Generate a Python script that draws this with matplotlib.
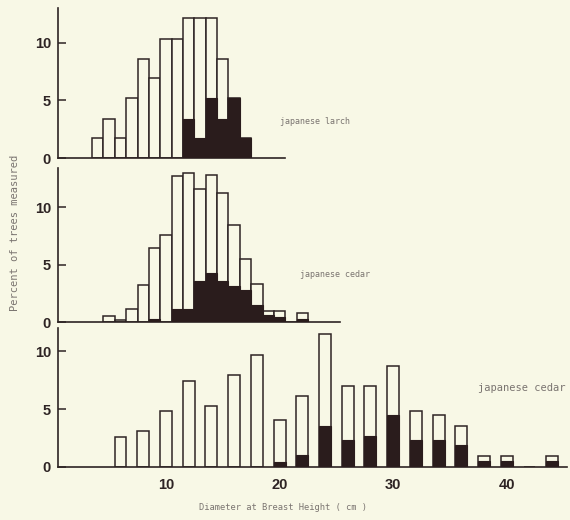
import matplotlib
matplotlib.use("Agg")
import matplotlib.pyplot as plt

# Diameter classes (cm) and percent of trees per class
larch_dbh = list(range(4, 18))
larch_total = [1.7, 3.4, 1.7, 5.2, 8.6, 6.9, 10.3, 10.3, 12.1, 12.1, 12.1, 8.6, 5.2, 1.7]
larch_dark = [0, 0, 0, 0, 0, 0, 0, 0, 3.4, 1.7, 5.2, 3.4, 5.2, 1.7]

cedar_a_dbh = list(range(5, 23))
cedar_a_total = [0.5, 0.2, 1.1, 3.2, 6.4, 7.6, 12.7, 13.0, 11.6, 12.8, 11.2, 8.4,
                 5.5, 3.3, 1.0, 1.0, 0, 0.8]
cedar_a_dark = [0, 0, 0, 0, 0.25, 0, 1.1, 1.1, 3.6, 4.3, 3.6, 3.1,
                2.8, 1.45, 0.6, 0.4, 0, 0.3]

cedar_b_dbh = list(range(6, 45, 2))
cedar_b_total = [2.6, 3.15, 4.8, 7.45, 5.25, 7.9, 9.65, 4.05, 6.15, 11.5, 7.0, 7.0,
                 8.75, 4.85, 4.45, 3.55, 0.95, 0.95, 0, 0.95]
cedar_b_dark = [0, 0, 0, 0, 0, 0, 0, 0.45, 1.0, 3.55, 2.3, 2.7,
                4.45, 2.3, 2.3, 1.9, 0.5, 0.5, 0, 0.5]

x_ticks = [10, 20, 30, 40]
y_ticks = [0, 5, 10]

BG = "#f8f8e6"
INK = "#2e2424"
DARK = "#2a1c1c"
GREY = "#7a7470"

fig = plt.figure(figsize=(5.7, 5.2), dpi=100, facecolor=BG)

W = 570.0
H = 520.0
left_px, right_px = 58, 567
xlim = (0.5, 45.3)


def make_axes(top_px, bottom_px):
    return fig.add_axes([left_px / W, 1 - bottom_px / H,
                         (right_px - left_px) / W, (bottom_px - top_px) / H])


panels = [
    dict(box=(8, 158), ymax=13.0, x=larch_dbh, tot=larch_total, dark=larch_dark,
         width=1.0, xend=20.5, label="japanese larch", lx=20.0, ly=3.2,
         ha="left", size=6),
    dict(box=(168, 322), ymax=13.4, x=cedar_a_dbh, tot=cedar_a_total, dark=cedar_a_dark,
         width=1.0, xend=25.3, label="japanese cedar", lx=21.8, ly=4.1,
         ha="left", size=6),
    dict(box=(328, 467), ymax=12.0, x=cedar_b_dbh, tot=cedar_b_total, dark=cedar_b_dark,
         width=1.05, xend=45.3, label="japanese cedar", lx=45.2, ly=6.8,
         ha="right", size=7.5),
]

axes = []
for i, p in enumerate(panels):
    ax = make_axes(*p["box"])
    ax.set_facecolor("none")
    ax.set_xlim(*xlim)
    ax.set_ylim(0, p["ymax"])
    ax.bar(p["x"], p["tot"], width=p["width"], color=BG, edgecolor=INK,
           linewidth=1.1, zorder=2)
    ax.bar(p["x"], p["dark"], width=p["width"], color=DARK, edgecolor=DARK,
           linewidth=0.8, zorder=3)
    for s in ("top", "right"):
        ax.spines[s].set_visible(False)
    ax.spines["left"].set_color(INK)
    ax.spines["bottom"].set_color(INK)
    ax.spines["left"].set_linewidth(1.2)
    ax.spines["bottom"].set_linewidth(1.2)
    ax.spines["bottom"].set_bounds(xlim[0], p["xend"])
    ax.set_yticks(y_ticks)
    ax.set_yticklabels([str(t) for t in y_ticks])
    ax.tick_params(axis="y", direction="in", length=6, width=1.1, color=INK,
                   pad=5, labelsize=10.5, labelcolor=INK)
    for lab in ax.get_yticklabels():
        lab.set_fontweight("bold")
        lab.set_fontfamily("Liberation Sans")
    if i < 2:
        ax.set_xticks([])
    else:
        ax.set_xticks(x_ticks)
        ax.set_xticklabels([str(t) for t in x_ticks])
        ax.tick_params(axis="x", length=0, pad=8, labelsize=10.5, labelcolor=INK)
        for lab in ax.get_xticklabels():
            lab.set_fontweight("bold")
            lab.set_fontfamily("Liberation Sans")
    ax.text(p["lx"], p["ly"], p["label"], fontsize=p["size"],
            family="DejaVu Sans Mono", color=GREY, ha=p["ha"], va="center")
    axes.append(ax)

fig.text(15 / W, 1 - 233 / H, "Percent of trees measured",
         rotation=90, fontsize=7.5, family="DejaVu Sans Mono", color=GREY,
         ha="center", va="center")
fig.text(283 / W, 1 - 508 / H, "Diameter at Breast Height ( cm )",
         fontsize=6.3, family="DejaVu Sans Mono", color=GREY,
         ha="center", va="center")

fig.savefig("out.png", dpi=100, facecolor=BG)
